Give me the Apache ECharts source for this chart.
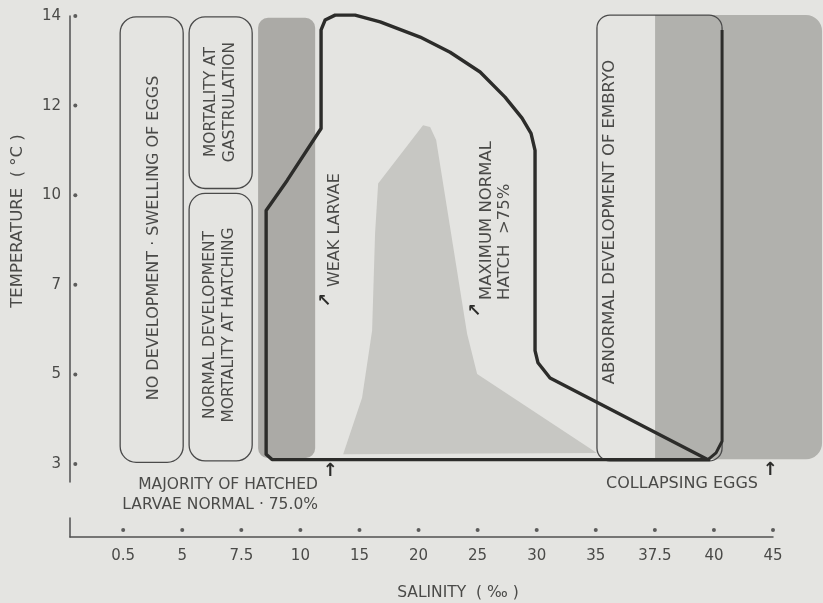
<!DOCTYPE html>
<html><head><meta charset="utf-8">
<script src="https://cdn.jsdelivr.net/npm/echarts@6/dist/echarts.min.js"></script>
<style>html,body{margin:0;padding:0;background:#e4e4e1}#c{width:823px;height:603px}</style>
</head><body><div id="c"></div>
<script>
// ---- axis tick values (ordinal, evenly spaced in the figure) ----
const salinityTicks = [0.5, 5, 7.5, 10, 15, 20, 25, 30, 35, 37.5, 40, 45];
const temperatureTicks = [3, 5, 7, 10, 12, 14];

// ---- rounded zones: [salinity min, salinity max, temperature min, temperature max] ----
const boxNoDevelopment = [0.27, 5.04, 3.04, 13.98];
const boxGastrulation = [5.29, 7.96, 10.15, 13.98];
const boxHatching = [5.29, 7.96, 3.07, 10.04];
const boxAbnormal = [35.05, 40.69, 3.07, 14.02];
const zoneWeakLarvae = [8.21, 11.25, 3.13, 13.96];
const zoneCollapsing = [37.51, 49.15, 3.11, 14.02];

// ---- outlines: [salinity, temperature] ----
const zoneMaxHatch = [[13.62,3.22],[15.22,4.48],[16.07,5.98],[16.32,8.72],[16.58,10.26],[20.38,11.56],[20.98,11.52],[21.49,11.23],[24.11,5.91],[24.96,5.01],[35.05,3.25]];
const hatchBoundary = [[39.84,3.1],[8.80,3.1],[8.55,3.22],[8.55,9.49],[9.44,10.33],[11.75,11.49],[11.75,13.69],[12.09,13.91],[12.94,14.02],[14.63,14.02],[16.75,13.87],[20.13,13.53],[22.67,13.19],[25.21,12.75],[27.32,12.19],[28.76,11.72],[29.52,11.38],[29.86,11.0],[29.86,5.53],[30.11,5.26],[31.13,4.92],[39.71,3.11],[39.84,3.1]];
const abnormalLimit = [[40.69,13.69],[40.69,3.51],[40.18,3.25],[39.75,3.1]];

// ---- ordinal mapping value -> tick index (piecewise linear) ----
function toIndex(v, ticks) {
  const n = ticks.length;
  if (v <= ticks[0]) return (v - ticks[0]) / (ticks[1] - ticks[0]);
  if (v >= ticks[n-1]) return (n-1) + (v - ticks[n-1]) / (ticks[n-1] - ticks[n-2]);
  for (let i = 0; i < n-1; i++) {
    if (v >= ticks[i] && v <= ticks[i+1]) return i + (v - ticks[i]) / (ticks[i+1] - ticks[i]);
  }
  return 0;
}
const sx = s => toIndex(s, salinityTicks);
const ty = t => toIndex(t, temperatureTicks);

const FONT = "'DejaVu Sans', sans-serif";
const TXT = '#4a4a48';
const AXIS = '#505050';
const X_MIN = -0.9, Y_MIN = -0.2;
const DOT_X = -0.81, DOT_Y = 0.37;

function rectShape(api, b) {
  const p1 = api.coord([sx(b[0]), ty(b[3])]);
  const p2 = api.coord([sx(b[1]), ty(b[2])]);
  return { x: p1[0], y: p1[1], width: p2[0] - p1[0], height: p2[1] - p1[1] };
}
function pts(api, arr) { return arr.map(p => api.coord([sx(p[0]), ty(p[1])])); }

function renderZones(params, api) {
  const boxStyle = { fill: 'none', stroke: '#4a4a4a', lineWidth: 1.3 };
  return { type: 'group', children: [
    { type: 'rect', shape: Object.assign(rectShape(api, zoneCollapsing), { r: [0, 16, 16, 0] }), style: { fill: '#b1b1ad' } },
    { type: 'rect', shape: Object.assign(rectShape(api, zoneWeakLarvae), { r: 10 }), style: { fill: '#abaaa6' } },
    { type: 'polygon', shape: { points: pts(api, zoneMaxHatch) }, style: { fill: '#c7c7c3' } },
    { type: 'rect', shape: Object.assign(rectShape(api, boxNoDevelopment), { r: 16 }), style: boxStyle },
    { type: 'rect', shape: Object.assign(rectShape(api, boxGastrulation), { r: 16 }), style: boxStyle },
    { type: 'rect', shape: Object.assign(rectShape(api, boxHatching), { r: 16 }), style: boxStyle },
    { type: 'rect', shape: Object.assign(rectShape(api, boxAbnormal), { r: 13 }), style: boxStyle },
    { type: 'polyline', shape: { points: pts(api, hatchBoundary) }, style: { fill: 'none', stroke: '#2c2c2a', lineWidth: 3.4, lineJoin: 'round' } },
    { type: 'polyline', shape: { points: pts(api, abnormalLimit) }, style: { fill: 'none', stroke: '#2c2c2a', lineWidth: 3, lineJoin: 'round' } }
  ]};
}

function txt(text, x, y, opts) {
  return Object.assign({ type: 'text', x: x, y: y, silent: true, z: 10,
    style: Object.assign({ text: text, fill: TXT, fontFamily: FONT, fontSize: 16, align: 'center', verticalAlign: 'middle' }, opts && opts.style || {}) },
    opts && opts.rotation !== undefined ? { rotation: opts.rotation } : {});
}
const R = Math.PI / 2;

const chart = echarts.init(document.getElementById('c'), null, { renderer: 'canvas' });
chart.setOption({
  backgroundColor: '#e4e4e1',
  animation: false,
  grid: [
    { left: 70, right: 50, top: 16, bottom: 121 },
    { left: 70, right: 50, top: 518, height: 19 }
  ],
  xAxis: [
    { type: 'value', gridIndex: 0, min: X_MIN, max: 11, show: false },
    { type: 'value', gridIndex: 1, min: X_MIN, max: 11,
      axisLine: { onZero: false, lineStyle: { color: AXIS, width: 1.5 } },
      axisTick: { show: false }, splitLine: { show: false },
      axisLabel: { customValues: salinityTicks.map((_, i) => i), formatter: v => String(salinityTicks[Math.round(v)]),
        margin: 12, fontSize: 15, color: TXT, fontFamily: FONT } }
  ],
  yAxis: [
    { type: 'value', gridIndex: 0, min: Y_MIN, max: 5,
      axisLine: { show: true, onZero: false, lineStyle: { color: AXIS, width: 1.5 } },
      axisTick: { show: false }, splitLine: { show: false },
      axisLabel: { customValues: temperatureTicks.map((_, i) => i), formatter: v => String(temperatureTicks[Math.round(v)]),
        margin: 9, fontSize: 15, color: TXT, fontFamily: FONT } },
    { type: 'value', gridIndex: 1, min: 0, max: 1,
      axisLine: { show: true, onZero: false, lineStyle: { color: AXIS, width: 1.5 } },
      axisTick: { show: false }, axisLabel: { show: false }, splitLine: { show: false } }
  ],
  series: [
    { type: 'custom', xAxisIndex: 0, yAxisIndex: 0, silent: true, data: [[0, 0]], renderItem: renderZones },
    { type: 'scatter', xAxisIndex: 0, yAxisIndex: 0, silent: true, symbolSize: 4, itemStyle: { color: '#3a3a3a' },
      data: temperatureTicks.map((t, i) => [DOT_X, i]) },
    { type: 'scatter', xAxisIndex: 1, yAxisIndex: 1, silent: true, symbolSize: 4, itemStyle: { color: '#3a3a3a' },
      data: salinityTicks.map((s, i) => [i, DOT_Y]) }
  ],
  graphic: [
    txt('TEMPERATURE  ( °C )', 18, 221, { rotation: R, style: { fontSize: 16.5 } }),
    txt('SALINITY  ( ‰ )', 458, 593, { style: { fontSize: 15.5 } }),
    txt('NO DEVELOPMENT · SWELLING OF EGGS', 154, 238, { rotation: R }),
    txt('MORTALITY AT\nGASTRULATION', 220, 102, { rotation: R, style: { fontSize: 15.5, lineHeight: 19 } }),
    txt('NORMAL DEVELOPMENT\nMORTALITY AT HATCHING', 219, 325, { rotation: R, style: { fontSize: 15.5, lineHeight: 19 } }),
    txt('ABNORMAL DEVELOPMENT OF EMBRYO', 610, 222, { rotation: R, style: { fontSize: 16.5 } }),
    txt('WEAK LARVAE', 335, 287, { rotation: R, style: { align: 'left' } }),
    txt('MAXIMUM NORMAL\nHATCH  >75%', 496, 300, { rotation: R, style: { align: 'left', fontSize: 16.5, lineHeight: 18 } }),
    txt('MAJORITY OF HATCHED\nLARVAE NORMAL · 75.0%', 318, 495, { style: { align: 'right', fontSize: 15.5, lineHeight: 20 } }),
    txt('COLLAPSING EGGS', 758, 484, { style: { align: 'right' } }),
    txt('↑', 330, 471, { style: { fontSize: 18, fontWeight: 'bold', fill: '#2c2c2a' } }),
    txt('↑', 770, 470, { style: { fontSize: 18, fontWeight: 'bold', fill: '#2c2c2a' } }),
    txt('↖', 324, 302, { style: { fontSize: 17, fontWeight: 'bold', fill: '#2c2c2a' } }),
    txt('↖', 474, 312, { style: { fontSize: 17, fontWeight: 'bold', fill: '#2c2c2a' } })
  ]
});
</script></body></html>
